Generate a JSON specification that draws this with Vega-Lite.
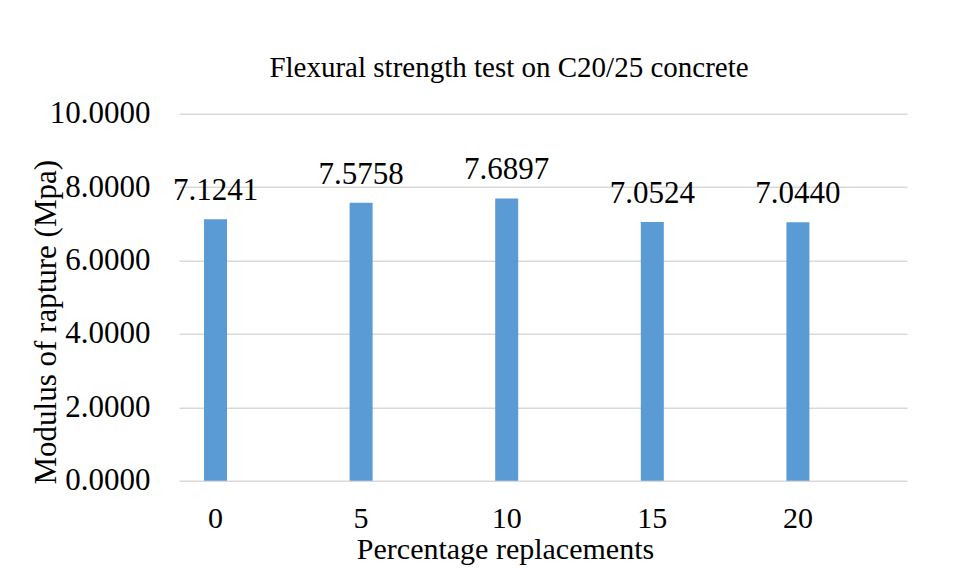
{
  "$schema": "https://vega.github.io/schema/vega-lite/v6.json",
  "autosize": "none",
  "width": 728,
  "height": 367,
  "padding": {"left": 179, "top": 113.7, "right": 52, "bottom": 100.3},
  "background": "white",
  "title": {
    "text": "Flexural strength test on C20/25 concrete",
    "font": "Liberation Serif",
    "fontSize": 29,
    "fontWeight": "normal",
    "color": "black",
    "dx": -34,
    "offset": 36.7,
    "dy": 45,
    "baseline": "alphabetic",
    "frame": "group"
  },
  "data": {
    "values": [
      {"replacement": "0", "modulus": 7.1241},
      {"replacement": "5", "modulus": 7.5758},
      {"replacement": "10", "modulus": 7.6897},
      {"replacement": "15", "modulus": 7.0524},
      {"replacement": "20", "modulus": 7.0440}
    ]
  },
  "encoding": {
    "x": {
      "field": "replacement",
      "type": "ordinal",
      "sort": null,
      "scale": {"paddingInner": 0.842, "paddingOuter": 0.421, "align": 0.204},
      "axis": {
        "title": "Percentage replacements",
        "labelAngle": 0,
        "labelFont": "Liberation Serif",
        "labelFontSize": 30,
        "labelColor": "black",
        "labelPadding": 23,
        "ticks": false,
        "tickSize": 0,
        "domain": false,
        "titleFont": "Liberation Serif",
        "titleFontSize": 30,
        "titleFontWeight": "normal",
        "titleColor": "black",
        "titleX": 326,
        "titleY": 77.3,
        "titleAlign": "center",
        "titleBaseline": "alphabetic"
      }
    },
    "y": {
      "field": "modulus",
      "type": "quantitative",
      "scale": {"domain": [0, 10], "nice": false},
      "axis": {
        "title": "Modulus of rapture (Mpa)",
        "values": [0, 2, 4, 6, 8, 10],
        "format": ".4f",
        "labelFont": "Liberation Serif",
        "labelFontSize": 31,
        "labelColor": "black",
        "labelPadding": 29,
        "ticks": false,
        "tickSize": 0,
        "domain": false,
        "grid": true,
        "gridColor": "#d9d9d9",
        "gridWidth": 1.5,
        "titleFont": "Liberation Serif",
        "titleFontSize": 31,
        "titleFontWeight": "normal",
        "titleColor": "black",
        "titleAngle": -90,
        "titleX": -124,
        "titleY": 208,
        "titleAlign": "center",
        "titleBaseline": "alphabetic"
      }
    }
  },
  "layer": [
    {"mark": {"type": "bar", "color": "#5b9bd5"}},
    {
      "mark": {"type": "text", "font": "Liberation Serif", "fontSize": 31, "color": "black", "baseline": "alphabetic", "dy": -19},
      "encoding": {"text": {"field": "modulus", "type": "quantitative", "format": ".4f"}}
    }
  ],
  "config": {"view": {"stroke": null}}
}
